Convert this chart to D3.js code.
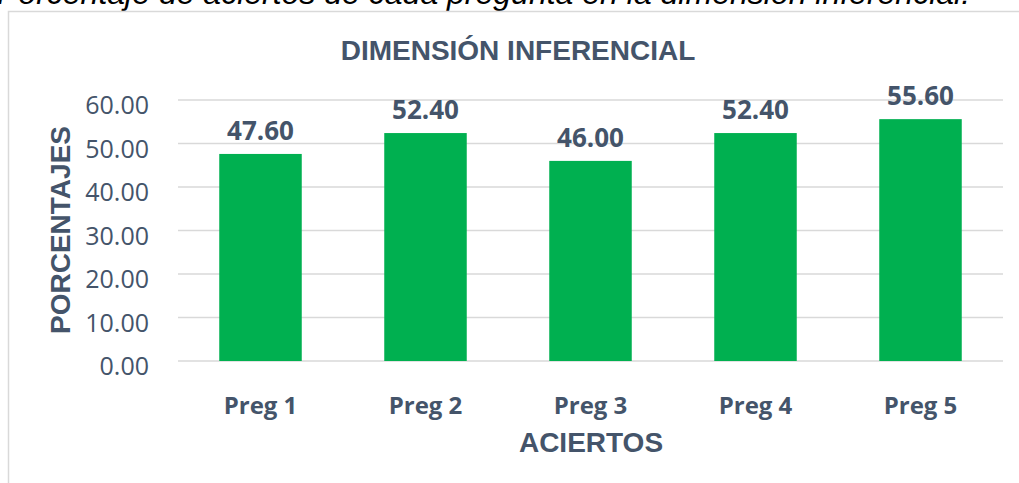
<!DOCTYPE html>
<html>
<head>
<meta charset="utf-8">
<script src="https://cdn.jsdelivr.net/npm/d3@7"></script>
<style>
  body { margin: 0; background: #fff; overflow: hidden; }
  svg { display: block; }
</style>
</head>
<body>
<svg></svg>
<script>
// data
var preguntas = ["Preg 1", "Preg 2", "Preg 3", "Preg 4", "Preg 5"];
var porcentajes = [47.60, 52.40, 46.00, 52.40, 55.60];
var ticks = [0, 10, 20, 30, 40, 50, 60];

var svgWidth = 1019, svgHeight = 483;
var ink = "#44546A";

var svg = d3.select("svg")
  .attr("width", svgWidth)
  .attr("height", svgHeight);

// caption of the figure, cut off at the top
svg.append("text")
  .attr("x", -3)
  .attr("y", 4)
  .attr("font-family", "Liberation Sans, Arial, sans-serif")
  .attr("font-style", "italic")
  .attr("font-size", 32)
  .attr("fill", "#000")
  .text("Porcentaje de aciertos de cada pregunta en la dimensión inferencial.");

// chart area border
svg.append("rect")
  .attr("x", 8.5)
  .attr("y", 11.5)
  .attr("width", 1040)
  .attr("height", 500)
  .attr("fill", "#fff")
  .attr("stroke", "#D9D9D9")
  .attr("stroke-width", 1.5);

var x = d3.scaleBand()
  .domain(preguntas)
  .range([178, 1003])
  .paddingInner(0.5)
  .paddingOuter(0.25);

var y = d3.scaleLinear()
  .domain([0, 60])
  .range([361, 100]);

// gridlines
svg.selectAll("line.grid")
  .data(ticks)
  .enter()
  .append("line")
  .attr("class", "grid")
  .attr("x1", 178)
  .attr("x2", 1003)
  .attr("y1", function(d) { return y(d); })
  .attr("y2", function(d) { return y(d); })
  .attr("stroke", "#D9D9D9")
  .attr("stroke-width", 1.5);

// y tick labels
svg.selectAll("text.ytick")
  .data(ticks)
  .enter()
  .append("text")
  .attr("class", "ytick")
  .attr("x", 149)
  .attr("y", function(d) { return y(d) + 14; })
  .attr("text-anchor", "end")
  .attr("font-family", "Open Sans, sans-serif")
  .attr("font-size", 25)
  .attr("fill", ink)
  .text(function(d) { return d3.format(".2f")(d); });

// bars
svg.selectAll("rect.bar")
  .data(porcentajes)
  .enter()
  .append("rect")
  .attr("class", "bar")
  .attr("x", function(d, i) { return x(preguntas[i]); })
  .attr("y", function(d) { return y(d); })
  .attr("width", x.bandwidth())
  .attr("height", function(d) { return y(0) - y(d); })
  .attr("fill", "#00B050");

// value labels
svg.selectAll("text.val")
  .data(porcentajes)
  .enter()
  .append("text")
  .attr("class", "val")
  .attr("x", function(d, i) { return x(preguntas[i]) + x.bandwidth() / 2; })
  .attr("y", function(d) { return y(d) - 14; })
  .attr("text-anchor", "middle")
  .attr("font-family", "Open Sans, sans-serif")
  .attr("font-weight", "bold")
  .attr("font-size", 26)
  .attr("fill", ink)
  .text(function(d) { return d3.format(".2f")(d); });

// category labels
svg.selectAll("text.cat")
  .data(preguntas)
  .enter()
  .append("text")
  .attr("class", "cat")
  .attr("x", function(d) { return x(d) + x.bandwidth() / 2; })
  .attr("y", 414)
  .attr("text-anchor", "middle")
  .attr("font-family", "Open Sans, sans-serif")
  .attr("font-weight", "bold")
  .attr("font-size", 24)
  .attr("fill", ink)
  .text(function(d) { return d; });

// titles
svg.append("text")
  .attr("x", 518)
  .attr("y", 60)
  .attr("text-anchor", "middle")
  .attr("font-family", "Liberation Sans, Arial, sans-serif")
  .attr("font-weight", "bold")
  .attr("font-size", 28)
  .attr("fill", ink)
  .text("DIMENSIÓN INFERENCIAL");

svg.append("text")
  .attr("x", 591)
  .attr("y", 452)
  .attr("text-anchor", "middle")
  .attr("font-family", "Liberation Sans, Arial, sans-serif")
  .attr("font-weight", "bold")
  .attr("font-size", 28)
  .attr("fill", ink)
  .text("ACIERTOS");

svg.append("text")
  .attr("transform", "translate(70,230) rotate(-90)")
  .attr("text-anchor", "middle")
  .attr("font-family", "Liberation Sans, Arial, sans-serif")
  .attr("font-weight", "bold")
  .attr("font-size", 28)
  .attr("fill", ink)
  .text("PORCENTAJES");
</script>
</body>
</html>
